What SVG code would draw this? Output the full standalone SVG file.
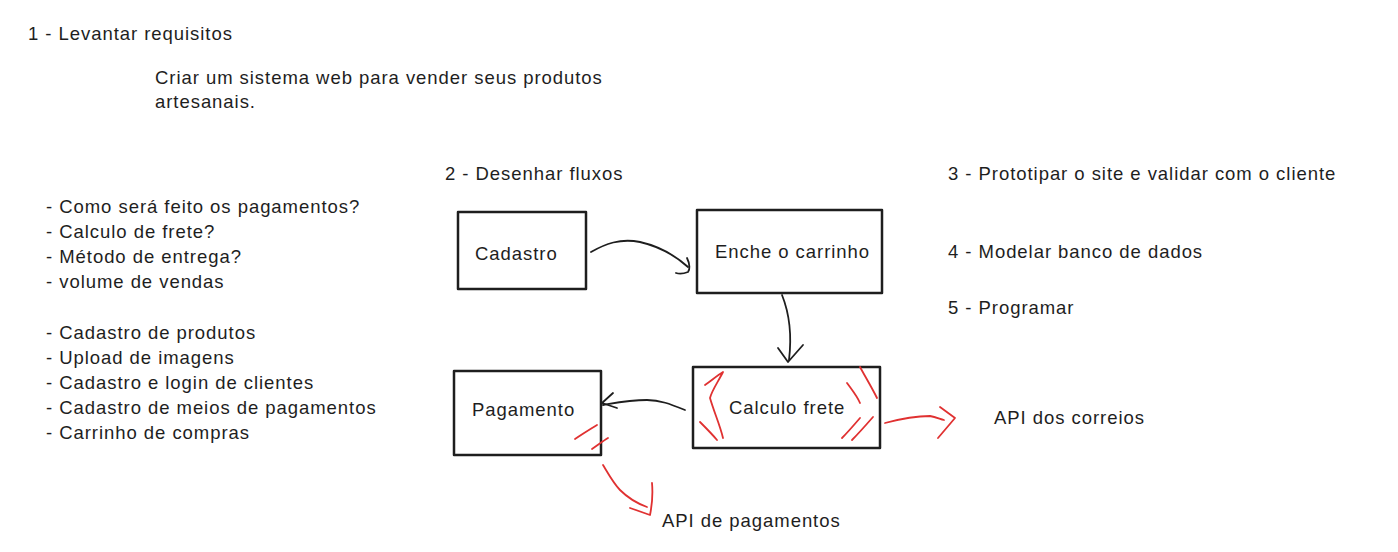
<svg xmlns="http://www.w3.org/2000/svg" width="1398" height="552" viewBox="0 0 1398 552">
<style>
text{font-family:"Liberation Sans","DejaVu Sans",sans-serif;font-size:18.5px;letter-spacing:0.95px;fill:#1e1e1e}
.box{fill:none;stroke:#1e1e1e;stroke-width:2.5;stroke-linejoin:round}
.ink{fill:none;stroke:#1e1e1e;stroke-width:1.8;stroke-linecap:round;stroke-linejoin:round}
.red{fill:none;stroke:#e03131;stroke-width:1.8;stroke-linecap:round;stroke-linejoin:round}
</style>
<rect width="1398" height="552" fill="#ffffff"/>
<g id="notes">
<text x="28" y="40">1 - Levantar requisitos</text>
<text x="155" y="84">Criar um sistema web para vender seus produtos</text>
<text x="155" y="108">artesanais.</text>
<text x="445" y="180">2 - Desenhar fluxos</text>
<text x="948" y="180">3 - Prototipar o site e validar com o cliente</text>
<text x="948" y="258">4 - Modelar banco de dados</text>
<text x="948" y="314">5 - Programar</text>
<text x="46" y="213">- Como será feito os pagamentos?</text>
<text x="46" y="238">- Calculo de frete?</text>
<text x="46" y="263">- Método de entrega?</text>
<text x="46" y="288">- volume de vendas</text>
<text x="46" y="339">- Cadastro de produtos</text>
<text x="46" y="364">- Upload de imagens</text>
<text x="46" y="389">- Cadastro e login de clientes</text>
<text x="46" y="414">- Cadastro de meios de pagamentos</text>
<text x="46" y="439">- Carrinho de compras</text>
<text x="994" y="424">API dos correios</text>
<text x="662" y="527">API de pagamentos</text>
</g>
<g id="cadastro">
<rect class="box" x="458" y="212" width="128" height="77"/>
<text x="475" y="260">Cadastro</text>
</g>
<g id="enche-carrinho">
<rect class="box" x="697" y="210" width="185" height="83"/>
<text x="715" y="258">Enche o carrinho</text>
</g>
<g id="calculo-frete">
<rect class="box" x="693" y="367" width="187" height="81"/>
<text x="729" y="414">Calculo frete</text>
</g>
<g id="pagamento">
<rect class="box" x="454" y="371" width="147" height="84"/>
<text x="472" y="416">Pagamento</text>
</g>
<g id="connectors">
<path class="ink" d="M591,252 C605,244 620,238 640,242 C662,247 678,258 688,267"/>
<path class="ink" d="M687,258 C690,264 690,270 688,272 C683,274 679,274 676,273"/>
<path class="ink" d="M782,295 C790,315 792,335 789,360"/>
<path class="ink" d="M778,348 L788,362 L803,345"/>
<path class="ink" d="M685,410 C670,404 660,400 647,400 C630,400 615,403 603,405"/>
<path class="ink" d="M613,393 L602,403 L617,408"/>
<path class="red" d="M705,385 C712,380 718,375 723,372 C718,382 712,390 710,398 C714,412 720,425 723,438"/>
<path class="red" d="M700,422 C706,428 712,434 717,440"/>
<path class="red" d="M860,367 C866,378 872,388 877,398"/>
<path class="red" d="M847,383 C852,390 857,396 860,403"/>
<path class="red" d="M860,418 C854,425 848,432 842,438"/>
<path class="red" d="M873,417 C866,425 859,433 852,440"/>
<path class="red" d="M885,423 C900,419 915,416 930,416 C936,417 940,419 944,420"/>
<path class="red" d="M940,407 L955,418 L938,438"/>
<path class="red" d="M575,439 C583,434 590,429 597,425"/>
<path class="red" d="M592,449 C598,445 603,441 608,438"/>
<path class="red" d="M603,465 C609,475 614,484 620,490 C628,498 636,503 647,507"/>
<path class="red" d="M630,508 L650,515 C652,505 653,494 652,483"/>
</g>
</svg>
